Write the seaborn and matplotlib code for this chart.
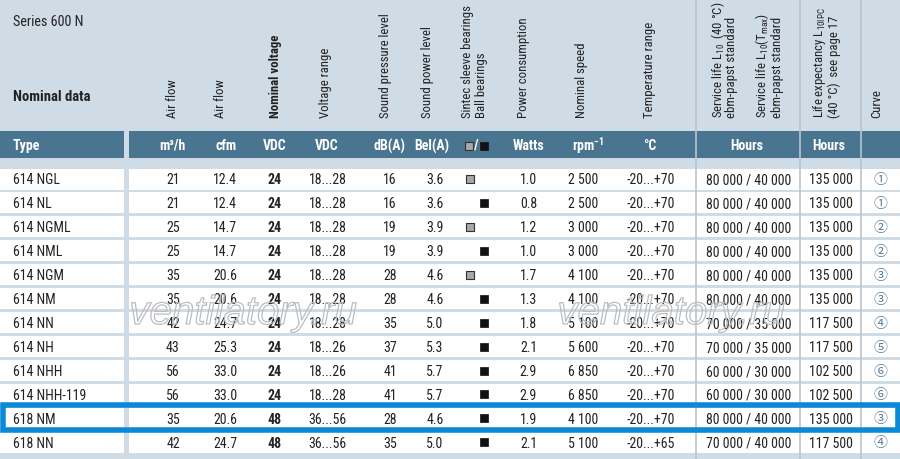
import numpy as np
import pandas as pd
import matplotlib
matplotlib.use("Agg")
import matplotlib.pyplot as plt
import matplotlib.patches as mpatches
import matplotlib.patheffects as pe
import seaborn as sns

# table data
types = ["614 NGL", "614 NL", "614 NGML", "614 NML", "614 NGM", "614 NM",
         "614 NN", "614 NH", "614 NHH", "614 NHH-119", "618 NM", "618 NN"]
air_m3h = [21, 21, 25, 25, 35, 35, 42, 43, 56, 56, 35, 42]
air_cfm = [12.4, 12.4, 14.7, 14.7, 20.6, 20.6, 24.7, 25.3, 33.0, 33.0, 20.6, 24.7]
v_nom = [24, 24, 24, 24, 24, 24, 24, 24, 24, 24, 48, 48]
v_range = ["18...28", "18...28", "18...28", "18...28", "18...28", "18...28",
           "18...28", "18...26", "18...26", "18...28", "36...56", "36...56"]
db_a = [16, 16, 19, 19, 28, 28, 35, 37, 41, 41, 28, 35]
bel_a = [3.6, 3.6, 3.9, 3.9, 4.6, 4.6, 5.0, 5.3, 5.7, 5.7, 4.6, 5.0]
bearing = ["sintec", "ball", "sintec", "ball", "sintec", "ball",
           "ball", "ball", "ball", "ball", "ball", "ball"]
watts = [1.0, 0.8, 1.2, 1.0, 1.7, 1.3, 1.8, 2.1, 2.9, 2.9, 1.9, 2.1]
rpm = [2500, 2500, 3000, 3000, 4100, 4100, 5100, 5600, 6850, 6850, 4100, 5100]
temp = ["-20...+70"] * 11 + ["-20...+65"]
service_life = ["80 000 / 40 000"] * 6 + ["70 000 / 35 000"] * 2 + \
               ["60 000 / 30 000"] * 2 + ["80 000 / 40 000", "70 000 / 40 000"]
life_ipc = [135000] * 6 + [117500, 117500, 102500, 102500, 135000, 117500]
curve = [1, 1, 2, 2, 3, 3, 4, 5, 6, 6, 3, 4]
highlight = "618 NM"

sns.set_theme(style="white")
NARROW = ["Roboto Condensed", "Archivo Narrow", "DejaVu Sans"]
plt.rcParams["font.family"] = NARROW
plt.rcParams["mathtext.fontset"] = "custom"
plt.rcParams["mathtext.rm"] = "Roboto Condensed"

BG = "#cfdbe5"
BAND = "#4a7590"
LINE = "#b8c5d0"
TXT = "#222222"

fig = plt.figure(figsize=(9, 4.6), dpi=100)
fig.patch.set_facecolor(BG)
ax = fig.add_axes([0, 0, 1, 1])

n = len(types)
pitch = 23.94
row_c = 180 + pitch * np.arange(n)

# white rows
for c in row_c:
    ax.add_patch(mpatches.Rectangle((0, c - 10.5), 124, 21, color="white", lw=0, zorder=1))
    ax.add_patch(mpatches.Rectangle((129, c - 10.5), 771, 21, color="white", lw=0, zorder=1))

# header band
ax.add_patch(mpatches.Rectangle((0, 132), 124, 27, color=BAND, lw=0, zorder=1))
ax.add_patch(mpatches.Rectangle((129, 132), 771, 27, color=BAND, lw=0, zorder=1))

for x in [696, 800, 861]:
    ax.axvline(x, color=LINE, lw=1.2, zorder=2)

ax.text(13, 22.5, "Series 600 N", fontsize=10.2, color=TXT, va="center", ha="left")
ax.text(13, 97, "Nominal data", fontsize=10.5, fontweight="bold", color=TXT, va="center", ha="left")

# rotated column titles
vhead = [
    (172.5, "Air flow", "normal"),
    (221, "Air flow", "normal"),
    (275, "Nominal voltage", "bold"),
    (326, "Voltage range", "normal"),
    (385, "Sound pressure level", "normal"),
    (428, "Sound power level", "normal"),
    (467, "Sintec sleeve bearings", "normal"),
    (482, "Ball bearings", "normal"),
    (524, "Power consumption", "normal"),
    (581, "Nominal speed", "normal"),
    (649, "Temperature range", "normal"),
    (718, r"Service life L$_{\mathregular{10}}$  (40 °C)", "normal"),
    (732, "ebm-papst standard", "normal"),
    (762, r"Service life L$_{\mathregular{10}}$(T$_{\mathregular{max}}$)", "normal"),
    (777, "ebm-papst standard", "normal"),
    (820, r"Life expectancy L$_{\mathregular{10IPC}}$", "normal"),
    (834, "(40 °C)  see page 17", "normal"),
    (877, "Curve", "normal"),
]
for x, s, w in vhead:
    ax.text(x, 118, s, rotation=90, ha="center", va="bottom", fontsize=9.2,
            fontweight=w, color=TXT, zorder=3)

# band labels
band = [(13, "Type", "left"), (172.5, "m³/h", "center"), (226, "cfm", "center"),
        (275, "VDC", "center"), (327, "VDC", "center"), (389, "dB(A)", "center"),
        (432, "Bel(A)", "center"), (528.5, "Watts", "center"),
        (588, r"rpm$^{\mathregular{-1}}$", "center"), (650, "°C", "center"),
        (747, "Hours", "center"), (829, "Hours", "center")]
for x, s, h in band:
    ax.text(x, 146, s, ha=h, va="center", fontsize=10, fontweight="bold",
            color="white", zorder=3)
ax.text(476, 146, "/", ha="center", va="center", fontsize=10, fontweight="bold",
        color="white", zorder=3)
ax.scatter([469], [146.5], marker="s", s=26, c="#a8a8a8", edgecolors="#333333", linewidths=0.8, zorder=4)
ax.scatter([483.5], [146.5], marker="s", s=30, c="#111111", edgecolors="#111111", linewidths=0.5, zorder=4)

def fmt_k(v):
    return f"{v:,}".replace(",", " ")

cols = [
    (13, "left", "normal", types),
    (173, "center", "normal", [str(v) for v in air_m3h]),
    (225, "center", "normal", [f"{v:.1f}" for v in air_cfm]),
    (275, "center", "bold", [str(v) for v in v_nom]),
    (327.5, "center", "normal", v_range),
    (390, "center", "normal", [str(v) for v in db_a]),
    (435, "center", "normal", [f"{v:.1f}" for v in bel_a]),
    (528.5, "center", "normal", [f"{v:.1f}" for v in watts]),
    (583.5, "center", "normal", [fmt_k(v) for v in rpm]),
    (650.5, "center", "normal", temp),
    (748.5, "center", "normal", service_life),
    (831, "center", "normal", [fmt_k(v) for v in life_ipc]),
]
for x, h, w, vals in cols:
    for c, s in zip(row_c, vals):
        ax.text(x, c + 0.5, s, ha=h, va="center", fontsize=10, fontweight=w,
                color=TXT, zorder=3)

for c, k in zip(row_c, curve):
    ax.text(880, c, chr(0x2460 + k - 1), ha="center", va="center", fontsize=10,
            color="#5d7f9c", family=["Noto Sans CJK JP", "DejaVu Sans"], zorder=3)

# bearing markers
bdf = pd.DataFrame({"bearing": bearing, "y": row_c})
bdf["x"] = bdf["bearing"].map({"sintec": 470, "ball": 484})
sns.scatterplot(data=bdf[bdf.bearing == "sintec"], x="x", y="y", marker="s", s=28,
                color="#a8a8a8", edgecolor="#333333", linewidth=0.8, legend=False, ax=ax, zorder=4)
sns.scatterplot(data=bdf[bdf.bearing == "ball"], x="x", y="y", marker="s", s=30,
                color="#111111", edgecolor="#111111", linewidth=0.5, legend=False, ax=ax, zorder=4)
ax.set_xlim(0, 900)
ax.set_ylim(460, 0)
ax.axis("off")

# highlighted row
hc = row_c[types.index(highlight)]
ax.add_patch(mpatches.Rectangle((2.5, hc - 13.5), 895, 25.5, fill=False,
                                ec="#0b89d6", lw=4, zorder=5))

# watermark
for x in [243, 671]:
    ax.text(x, 314, "ventilatory.ru", ha="center", va="center", fontsize=29,
            style="italic", family=["Liberation Sans", "DejaVu Sans"],
            color=(1, 1, 1, 0), zorder=6,
            path_effects=[pe.withStroke(linewidth=0.9, foreground="#bdbdbd")])

fig.savefig("out.png", dpi=100, facecolor=BG)
